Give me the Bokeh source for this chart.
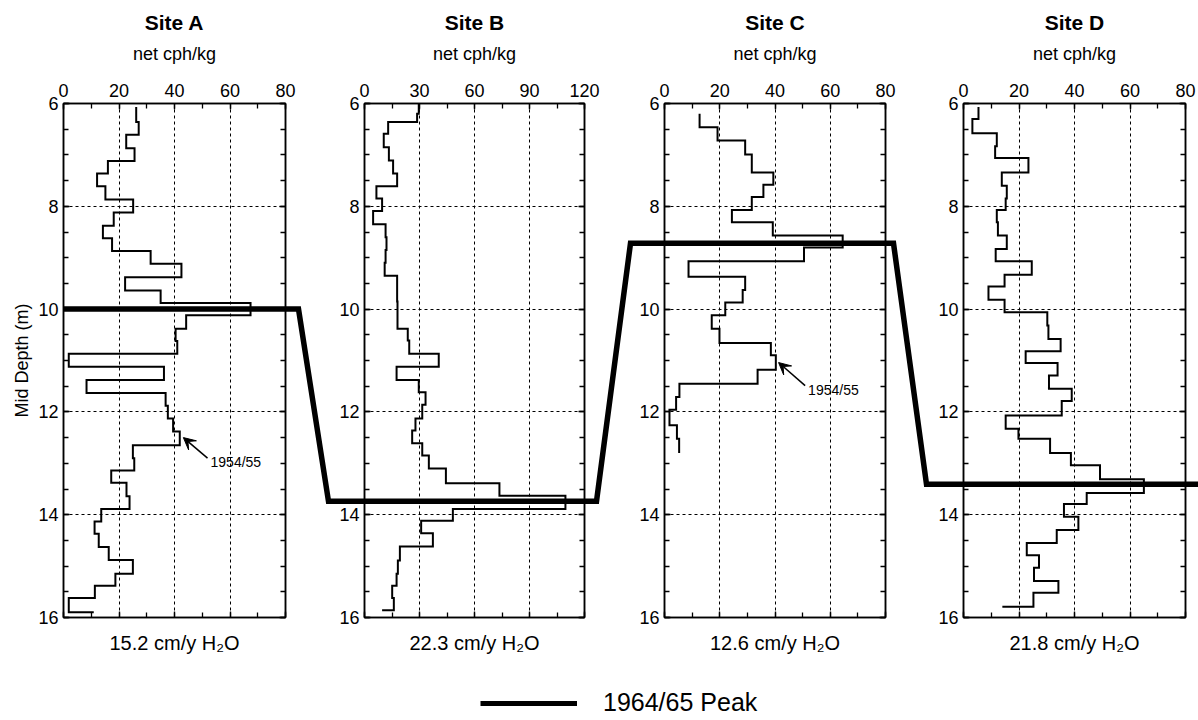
from bokeh.plotting import figure
from bokeh.models import (LinearAxis, SingleIntervalTicker, Range1d, Label, Arrow,
                          VeeHead, Legend, LegendItem, CustomLabelingPolicy)
from bokeh.layouts import row, column
from bokeh.embed import file_html
from bokeh.resources import INLINE

FONT = "Liberation Sans"

# ---------------- data ----------------
SITES = ["Site A", "Site B", "Site C", "Site D"]
ACCUM = ["15.2 cm/y H\u2082O", "22.3 cm/y H\u2082O", "12.6 cm/y H\u2082O", "21.8 cm/y H\u2082O"]
X_MAX = [80, 120, 80, 80]
X_TICK = [20, 30, 20, 20]
DEPTH_MIN, DEPTH_MAX = 6, 16
PEAK_DEPTH = [10.0, 13.74, 8.72, 13.41]   # 1964/65 peak depth per site
PEAK_LABEL = "1964/65 Peak"

A_EDGES = [6.07, 6.36, 6.61, 6.87, 7.12, 7.36, 7.61, 7.87, 8.12, 8.38, 8.62, 8.87, 9.12,
           9.38, 9.64, 9.88, 10.12, 10.38, 10.62, 10.87, 11.12, 11.38, 11.63, 11.88,
           12.13, 12.38, 12.65, 12.90, 13.14, 13.38, 13.64, 13.89, 14.13, 14.37, 14.63,
           14.88, 15.15, 15.38, 15.62, 15.90, 15.90]
A_VALUES = [26.2, 27.1, 22.6, 25.6, 16.0, 12.1, 15.1, 25.1, 18.1, 14.2, 17.5, 31.4, 42.5,
            22.2, 35.0, 67.4, 44.2, 40.4, 41.0, 1.9, 36.2, 8.3, 36.8, 37.6, 39.5, 41.9,
            25.0, 25.5, 17.2, 22.7, 23.8, 13.6, 11.2, 12.7, 16.3, 25.0, 18.7, 11.3, 1.9, 10.9]

B_EDGES = [6.0, 6.2, 6.36, 6.59, 6.85, 7.11, 7.36, 7.61, 7.85, 8.09, 8.35, 8.6, 8.85, 9.1,
           9.35, 9.6, 9.85, 10.1, 10.38, 10.61, 10.87, 11.12, 11.38, 11.62, 11.86, 12.13,
           12.36, 12.61, 12.85, 13.1, 13.39, 13.63, 13.89, 14.12, 14.36, 14.62, 14.89,
           15.15, 15.38, 15.62, 15.86, 15.86]
B_VALUES = [29.6, 28.7, 12.9, 10.5, 13.3, 15.6, 17.8, 6.5, 9.6, 4.7, 11.5, 12.0, 11.5, 11.0,
            17.8, 17.8, 18.0, 18.0, 23.6, 24.4, 40.5, 17.5, 29.6, 33.3, 31.5, 27.8, 26.0,
            31.5, 35.1, 44.4, 73.6, 109.6, 48.2, 30.9, 37.3, 19.3, 18.2, 17.5, 15.1, 16.0, 9.6]

C_EDGES = [6.2, 6.46, 6.72, 6.99, 7.34, 7.58, 7.82, 8.07, 8.31, 8.57, 8.8, 9.07, 9.37, 9.63,
           9.87, 10.12, 10.38, 10.66, 10.9, 11.18, 11.45, 11.71, 11.96, 12.26, 12.52, 12.8]
C_VALUES = [12.7, 19.2, 29.2, 31.6, 39.4, 35.8, 31.6, 24.4, 39.2, 64.5, 50.5, 8.7, 29.2,
            28.3, 22.0, 17.1, 19.9, 38.5, 40.3, 33.7, 5.4, 4.2, 1.8, 4.5, 5.3]

D_EDGES = [6.07, 6.3, 6.58, 6.83, 7.06, 7.34, 7.6, 7.85, 8.07, 8.31, 8.57, 8.83, 9.07, 9.33,
           9.56, 9.82, 10.06, 10.32, 10.58, 10.82, 11.05, 11.29, 11.55, 11.79, 12.07, 12.33,
           12.52, 12.8, 13.04, 13.31, 13.58, 13.79, 14.04, 14.3, 14.55, 14.79, 15.03, 15.29,
           15.52, 15.79, 15.79]
D_VALUES = [5.4, 3.2, 12.0, 11.4, 23.4, 13.8, 15.6, 15.2, 12.0, 12.4, 15.6, 11.6, 24.6, 14.8,
            9.0, 14.8, 30.2, 30.6, 35.0, 22.4, 33.9, 30.8, 39.0, 35.4, 15.2, 19.8, 31.2, 38.7,
            49.2, 65.0, 44.4, 36.2, 41.4, 33.6, 22.8, 27.2, 25.4, 34.2, 25.2, 14.0]

PROFILES = [(A_EDGES, A_VALUES), (B_EDGES, B_VALUES), (C_EDGES, C_VALUES), (D_EDGES, D_VALUES)]

# 1954/55 marker
MARK_TEXT = "1954/55"
MARK_SITE = [0, 2]
MARK_HEAD_X = [43.2, 41.3]
MARK_HEAD_Y = [12.5, 11.04]
MARK_TAIL_X = [51.9, 50.9]
MARK_TAIL_Y = [12.9, 11.49]

# ---------------- layout (page pixels) ----------------
CANVAS = [0, 313, 613, 910, 1198]
FRAME_L = [63, 364, 664, 963]
FRAME_R = [285, 584, 885, 1185]
FRAME_TOP, FRAME_BOTTOM, ROW_BOTTOM = 103, 617, 665
PEAK_IN = [63, 328, 630, 926]
PEAK_OUT = [298, 596, 893, 1200]

NO_LABELS = CustomLabelingPolicy(code="""
for (const i of indices) { indices.unset(i) }
return indices
""")


def px_to_x(i, px):
    return (px - FRAME_L[i]) / (FRAME_R[i] - FRAME_L[i]) * X_MAX[i]


def style_axis(ax, labels=True):
    ax.axis_line_width = 1.5
    ax.axis_line_color = "black"
    ax.major_tick_in = 6
    ax.major_tick_out = 0
    ax.minor_tick_in = 5
    ax.minor_tick_out = 0
    ax.major_tick_line_width = 1.3
    ax.minor_tick_line_width = 1.3
    ax.major_tick_line_color = "black"
    ax.minor_tick_line_color = "black"
    ax.major_label_text_font = FONT
    ax.major_label_text_color = "black"
    ax.major_label_text_font_size = "18px" if labels else "0px"
    ax.major_label_standoff = 7 if labels else 0
    if not labels:
        ax.major_label_policy = NO_LABELS
    ax.axis_label_text_font = FONT
    ax.axis_label_text_font_style = "normal"
    ax.axis_label_text_color = "black"


def make_panel(i):
    w = CANVAS[i + 1] - CANVAS[i]
    p = figure(width=w, height=ROW_BOTTOM,
               x_range=Range1d(0, X_MAX[i]), y_range=Range1d(DEPTH_MAX, DEPTH_MIN),
               x_axis_location="above", toolbar_location=None, output_backend="svg",
               min_border_left=FRAME_L[i] - CANVAS[i], min_border_right=CANVAS[i + 1] - FRAME_R[i],
               min_border_top=FRAME_TOP, min_border_bottom=ROW_BOTTOM - FRAME_BOTTOM,
               title=SITES[i])
    p.title.align = "center"
    p.title.text_font = FONT
    p.title.text_font_size = "21px"
    p.title.text_font_style = "bold"
    p.title.text_color = "black"
    p.title.standoff = 13
    p.outline_line_color = "black"
    p.outline_line_width = 1.5
    p.background_fill_color = "white"
    p.border_fill_color = "white"

    xt = SingleIntervalTicker(interval=X_TICK[i], num_minor_ticks=2)
    yt = SingleIntervalTicker(interval=2, num_minor_ticks=4)

    top = p.xaxis[0]
    top.ticker = xt
    style_axis(top)
    top.axis_label = "net cph/kg"
    top.axis_label_text_font_size = "18px"
    top.axis_label_standoff = 17

    left = p.yaxis[0]
    left.ticker = yt
    style_axis(left)
    left.major_label_standoff = 5
    if i == 0:
        left.axis_label = "Mid Depth (m)"
        left.axis_label_text_font_size = "18px"
        left.axis_label_standoff = 3

    bottom = LinearAxis(ticker=xt)
    style_axis(bottom, labels=False)
    bottom.axis_label = ACCUM[i]
    bottom.axis_label_text_font_size = "20px"
    bottom.axis_label_standoff = 14
    p.add_layout(bottom, "below")

    right = LinearAxis(ticker=yt)
    style_axis(right, labels=False)
    p.add_layout(right, "right")

    for g in (p.xgrid[0], p.ygrid[0]):
        g.grid_line_color = "black"
        g.grid_line_dash = "3 3"
        g.grid_line_width = 1
    p.xgrid[0].ticker = xt
    p.ygrid[0].ticker = yt

    edges, values = PROFILES[i]
    xs, ys = [], []
    for k, v in enumerate(values):
        xs += [v, v]
        ys += [edges[k], edges[k + 1]]
    p.line(xs, ys, line_width=2, color="black", line_join="miter")

    # 1964/65 peak line (continues into the gaps between panels)
    px_, py_ = [], []
    if i > 0:
        px_.append(px_to_x(i, PEAK_OUT[i - 1])); py_.append(PEAK_DEPTH[i - 1])
    px_ += [px_to_x(i, PEAK_IN[i]), px_to_x(i, PEAK_OUT[i])]
    py_ += [PEAK_DEPTH[i], PEAK_DEPTH[i]]
    if i < 3:
        px_.append(px_to_x(i, PEAK_IN[i + 1])); py_.append(PEAK_DEPTH[i + 1])
    p.line(px_, py_, line_width=5.5, color="black", line_join="miter", level="overlay")

    for k, s in enumerate(MARK_SITE):
        if s != i:
            continue
        p.add_layout(Arrow(end=VeeHead(size=12, fill_color="black", line_color="black"),
                           x_start=MARK_TAIL_X[k], y_start=MARK_TAIL_Y[k],
                           x_end=MARK_HEAD_X[k], y_end=MARK_HEAD_Y[k],
                           line_width=1.5, line_color="black"))
        p.add_layout(Label(x=MARK_TAIL_X[k], y=MARK_TAIL_Y[k], text=MARK_TEXT,
                           x_offset=3, y_offset=-4,
                           text_font=FONT, text_font_size="14px", text_color="black",
                           text_align="left", text_baseline="middle"))
    return p


panels = [make_panel(i) for i in range(4)]

leg = figure(width=CANVAS[-1] - CANVAS[0], height=53, toolbar_location=None,
             output_backend="svg", x_axis_type=None, y_axis_type=None,
             x_range=Range1d(0, 1), y_range=Range1d(0, 1), min_border=0)
leg.outline_line_color = None
leg.xgrid.visible = False
leg.ygrid.visible = False
dummy = leg.line([-10, -9], [-10, -9], line_width=5, color="black")
legend = Legend(items=[LegendItem(label=PEAK_LABEL, renderers=[dummy])],
                location=(480, 1), glyph_width=97, glyph_height=20,
                label_standoff=26, label_text_font=FONT, label_text_font_size="25px",
                label_text_color="black", padding=0, margin=0, border_line_color=None,
                background_fill_alpha=0)
leg.add_layout(legend)

layout = column(row(*panels, spacing=0), leg, spacing=0)
open("out.html", "w").write(file_html(layout, INLINE))
